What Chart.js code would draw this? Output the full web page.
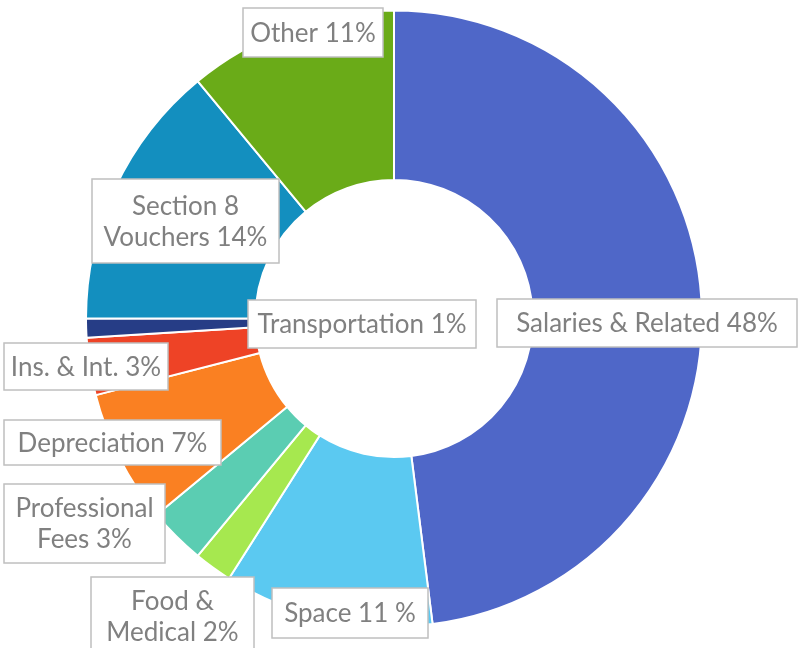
<!DOCTYPE html>
<html>
<head>
<meta charset="utf-8">
<script src="https://cdn.jsdelivr.net/npm/chart.js@4"></script>
<style>
  html, body { margin: 0; padding: 0; background: #fff; }
  #wrap { width: 798px; height: 648px; }
</style>
</head>
<body>
<div id="wrap"><canvas id="myChart" width="798" height="648"></canvas></div>
<script>
// Expense categories, clockwise from 12 o'clock
const categories = ['Salaries & Related', 'Space', 'Food & Medical', 'Professional Fees',
  'Depreciation', 'Ins. & Int.', 'Transportation', 'Section 8 Vouchers', 'Other'];
const shares = [48, 11, 2, 3, 7, 3, 1, 14, 11];
const labelLines = [
  ['Salaries & Related 48%'],
  ['Space 11 %'],
  ['Food &', 'Medical 2%'],
  ['Professional', 'Fees 3%'],
  ['Depreciation 7%'],
  ['Ins. & Int. 3%'],
  ['Transportation 1%'],
  ['Section 8', 'Vouchers 14%'],
  ['Other 11%']
];
const sliceColors = ['#4f67c8', '#5bc9f1', '#a6e84f', '#5bcdb2', '#fa8022',
  '#ee4326', '#263d86', '#138fbf', '#6aab18'];

// label box layout (left, top, width, height) in pixels
const labelBoxes = [
  [497, 299, 300, 48],
  [272, 588, 156, 50],
  [91, 577, 163, 80],
  [4, 484, 161, 79],
  [4, 420, 217, 45],
  [4, 343, 164, 47],
  [248, 300, 228, 48],
  [92, 179, 187, 84],
  [243, 8, 140, 49]
];

//Plugin that draws the boxed callout labels
const boxLabels = {
  id: 'boxLabels',
  afterDatasetsDraw(chart) {
    const ctx = chart.ctx;
    ctx.save();
    ctx.font = '26px Lato';
    ctx.textAlign = 'center';
    ctx.textBaseline = 'middle';
    labelBoxes.forEach((b, i) => {
      const [x, y, w, h] = b;
      ctx.fillStyle = '#ffffff';
      ctx.fillRect(x, y, w, h);
      ctx.strokeStyle = '#bfbfbf';
      ctx.lineWidth = 1.5;
      ctx.strokeRect(x, y, w, h);
      ctx.fillStyle = '#808080';
      const lines = labelLines[i];
      const lh = 31;
      let ty = y + h / 2 - (lines.length - 1) * lh / 2 + 1;
      if (lines.length > 1 && y + h > 648) ty = y + 25;
      lines.forEach((t, k) => ctx.fillText(t, x + w / 2, ty + k * lh));
    });
    ctx.restore();
  }
};

new Chart(document.getElementById('myChart').getContext('2d'), {
  type: 'doughnut',
  data: {
    labels: categories,
    datasets: [{
      data: shares,
      backgroundColor: sliceColors,
      borderColor: '#ffffff',
      borderWidth: 2
    }]
  },
  options: {
    responsive: false,
    animation: false,
    cutout: '45%',
    layout: { padding: { left: 85, right: 95, top: 9.5, bottom: 20.5 } },
    plugins: {
      legend: { display: false },
      tooltip: { enabled: false }
    }
  },
  plugins: [boxLabels]
});
</script>
</body>
</html>
